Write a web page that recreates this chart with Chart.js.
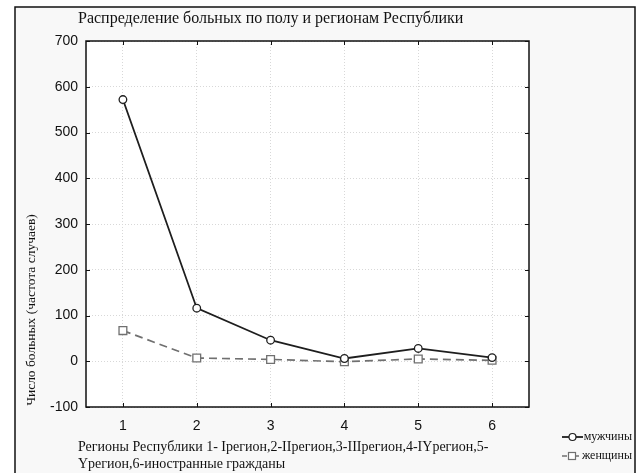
<!DOCTYPE html>
<html lang="ru">
<head>
<meta charset="utf-8">
<title>Распределение больных по полу и регионам Республики</title>
<script src="https://cdn.jsdelivr.net/npm/chart.js@4/dist/chart.umd.min.js"></script>
<style>
  html, body { margin: 0; padding: 0; background: #ffffff; }
  #wrap { position: relative; width: 638px; height: 473px; }
  canvas { display: block; }
</style>
</head>
<body>
<div id="wrap"><canvas id="chart" width="638" height="473"></canvas></div>
<script>
// Регионы (ось X) и число случаев по полу
const regions = [1, 2, 3, 4, 5, 6];
const menCases = [572, 116, 46, 6, 28, 8];
const womenCases = [67, 7, 4, -1, 5, 2];
const yTicks = [-100, 0, 100, 200, 300, 400, 500, 600, 700];

const chartTitle = 'Распределение больных по полу и регионам Республики';
const yTitle = 'Число больных (частота случаев)';
const xTitleLines = [
  'Регионы Республики 1- Iрегион,2-IIрегион,3-IIIрегион,4-IYрегион,5-',
  'Yрегион,6-иностранные гражданы'
];
const seriesNames = ['мужчины', 'женщины'];

const serif = '"Liberation Serif", "Times New Roman", serif';
const sans = '"Liberation Sans", Arial, sans-serif';

const toPoints = (vals) => vals.map((v, i) => ({ x: regions[i], y: v }));

// Фон рамки, белая область построения, засечки внутрь, подписи и легенда
const decor = {
  id: 'decor',
  beforeDraw(chart) {
    const { ctx, chartArea: a } = chart;
    ctx.save();
    ctx.fillStyle = '#ffffff';
    ctx.fillRect(0, 0, chart.width, chart.height);
    ctx.fillStyle = '#f8f8f8';
    ctx.fillRect(15, 7, 620, 466);
    ctx.strokeStyle = '#111';
    ctx.lineWidth = 1.5;
    ctx.strokeRect(15, 7, 620, 470);
    ctx.fillStyle = '#ffffff';
    ctx.fillRect(a.left, a.top, a.right - a.left, a.bottom - a.top);
    ctx.restore();
  },
  afterDraw(chart) {
    const { ctx, chartArea: a, scales } = chart;
    const xs = scales.x, ys = scales.y;
    ctx.save();
    // рамка области построения
    ctx.strokeStyle = '#111';
    ctx.lineWidth = 1.5;
    ctx.strokeRect(a.left, a.top, a.right - a.left, a.bottom - a.top);
    // засечки внутрь
    ctx.lineWidth = 1;
    ctx.beginPath();
    regions.forEach(r => {
      const px = Math.round(xs.getPixelForValue(r)) + 0.5;
      ctx.moveTo(px, a.bottom); ctx.lineTo(px, a.bottom - 4);
      ctx.moveTo(px, a.top); ctx.lineTo(px, a.top + 4);
    });
    yTicks.forEach(t => {
      const py = Math.round(ys.getPixelForValue(t)) + 0.5;
      ctx.moveTo(a.left, py); ctx.lineTo(a.left + 4, py);
      ctx.moveTo(a.right, py); ctx.lineTo(a.right - 4, py);
    });
    ctx.stroke();

    // заголовок
    ctx.fillStyle = '#111';
    ctx.font = '16px ' + serif;
    ctx.textAlign = 'left';
    ctx.textBaseline = 'middle';
    ctx.fillText(chartTitle, 78, 19);

    // подпись оси X
    ctx.font = '14px ' + serif;
    ctx.fillText(xTitleLines[0], 78, 447);
    ctx.fillText(xTitleLines[1], 78, 464);

    // подпись оси Y
    ctx.save();
    ctx.translate(31, 310);
    ctx.rotate(-Math.PI / 2);
    ctx.textAlign = 'center';
    ctx.font = '13.5px ' + serif;
    ctx.fillText(yTitle, 0, 0);
    ctx.restore();

    // легенда
    const ds = chart.data.datasets;
    const rows = [437, 456];
    rows.forEach((ry, i) => {
      const d = ds[i];
      const dashed = !!d.borderDash;
      ctx.save();
      ctx.strokeStyle = d.borderColor;
      ctx.lineWidth = d.borderWidth;
      ctx.beginPath();
      if (dashed) {
        ctx.moveTo(562, ry); ctx.lineTo(567, ry);
        ctx.moveTo(576, ry); ctx.lineTo(579, ry);
      } else {
        ctx.moveTo(562, ry); ctx.lineTo(583, ry);
      }
      ctx.stroke();
      ctx.fillStyle = '#ffffff';
      ctx.lineWidth = 1.2;
      if (d.pointStyle === 'rect') {
        ctx.fillRect(568.5, ry - 3.5, 7, 7);
        ctx.strokeRect(568.5, ry - 3.5, 7, 7);
      } else {
        ctx.beginPath();
        ctx.arc(572.5, ry, 3.5, 0, Math.PI * 2);
        ctx.fill(); ctx.stroke();
      }
      ctx.restore();
    });
    ctx.fillStyle = '#111';
    ctx.font = '12px ' + serif;
    ctx.textAlign = 'right';
    ctx.fillText(seriesNames[0], 632, rows[0]);
    ctx.fillText(seriesNames[1], 632, rows[1]);
    ctx.restore();
  }
};

new Chart(document.getElementById('chart'), {
  type: 'line',
  data: {
    datasets: [
      {
        label: seriesNames[0],
        data: toPoints(menCases),
        borderColor: '#1e1e1e',
        borderWidth: 1.8,
        pointStyle: 'circle',
        pointRadius: 3.8,
        pointBackgroundColor: '#ffffff',
        pointBorderColor: '#1e1e1e',
        pointBorderWidth: 1.3,
        tension: 0,
        order: 1
      },
      {
        label: seriesNames[1],
        data: toPoints(womenCases),
        borderColor: '#707070',
        borderWidth: 1.7,
        borderDash: [8, 5],
        pointStyle: 'rect',
        pointRadius: 5.5,
        pointBackgroundColor: '#ffffff',
        pointBorderColor: '#707070',
        pointBorderWidth: 1.3,
        tension: 0,
        order: 2
      }
    ]
  },
  options: {
    responsive: false,
    animation: false,
    devicePixelRatio: 1,
    layout: { padding: { left: 36, right: 109, top: 41, bottom: 36 } },
    plugins: {
      legend: { display: false },
      title: { display: false },
      tooltip: { enabled: false }
    },
    scales: {
      x: {
        type: 'linear',
        min: 0.5,
        max: 6.5,
        afterBuildTicks: (s) => { s.ticks = regions.map(v => ({ value: v })); },
        afterFit: (s) => { s.height = 30; },
        grid: { color: '#d8d8d8', drawTicks: false },
        border: { display: false, dash: [1, 2] },
        ticks: {
          padding: 11,
          color: '#111',
          font: { family: sans, size: 14 },
          maxRotation: 0
        }
      },
      y: {
        type: 'linear',
        min: -100,
        max: 700,
        afterBuildTicks: (s) => { s.ticks = yTicks.map(v => ({ value: v })); },
        afterFit: (s) => { s.width = 50; },
        grid: { color: '#d8d8d8', drawTicks: false },
        border: { display: false, dash: [1, 2] },
        ticks: {
          padding: 8,
          color: '#111',
          font: { family: sans, size: 14 }
        }
      }
    }
  },
  plugins: [decor]
});
</script>
</body>
</html>
